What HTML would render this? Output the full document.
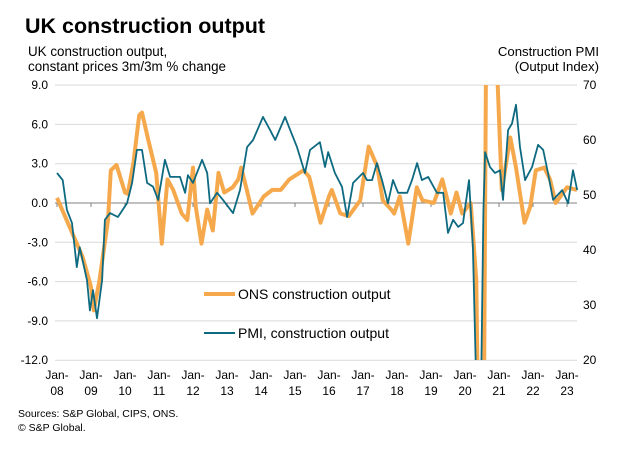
<!DOCTYPE html>
<html><head><meta charset="utf-8"><style>
html,body{margin:0;padding:0;background:#fff;overflow:hidden;width:637px;height:450px;}
svg{display:block;font-family:"Liberation Sans",Arial,sans-serif;}
</style></head><body>
<svg id="chart" width="637" height="450" viewBox="0 0 637 450" xmlns="http://www.w3.org/2000/svg">
<text x="25" y="33" font-size="21.5" font-weight="bold" fill="#000">UK construction output</text>
<text x="28" y="56" font-size="13.4" fill="#000">UK construction output,</text>
<text x="28" y="71" font-size="13.4" fill="#000">constant prices 3m/3m % change</text>
<text x="599" y="56" font-size="13.2" fill="#000" text-anchor="end">Construction PMI</text>
<text x="599" y="71" font-size="13.2" fill="#000" text-anchor="end">(Output Index)</text>
<g id="grid"></g>
<g id="axes"></g>
<defs><clipPath id="plotclip"><rect x="50" y="85" width="540" height="275"/></clipPath></defs>
<g id="series" clip-path="url(#plotclip)"></g>
<g>
<line x1="204" y1="294" x2="235" y2="294" stroke="#f5a94c" stroke-width="4"/>
<text x="238" y="299" font-size="14" fill="#000">ONS construction output</text>
<line x1="204" y1="333" x2="235" y2="333" stroke="#0e6a80" stroke-width="2"/>
<text x="238" y="338" font-size="14" fill="#000">PMI, construction output</text>
</g>
<text x="18" y="417" font-size="10.5" fill="#000">Sources: S&amp;P Global, CIPS, ONS.</text>
<text x="18" y="431" font-size="10.5" fill="#000">© S&amp;P Global.</text>
</svg>
<script>
const leftTicks=[9,6,3,0,-3,-6,-9,-12];
const leftTickLabels=["9.0","6.0","3.0","0.0","-3.0","-6.0","-9.0","-12.0"];
const rightTicks=[70,60,50,40,30,20];
const yearLabels=["08","09","10","11","12","13","14","15","16","17","18","19","20","21","22","23"];
const onsMonths=[0,6,9,12,13,15,18,19,21,24,25,27,29,30,32,35,37,39,41,44,46,48,49,51,53,55,57,59,62,64,65,67,69,73,76,79,82,87,89,93,96,97,100,103,107,110,113,115,118,119,121,124,127,129,133,136,139,141,143,146,148,150,152.5,155,157,160,162,165,167,169,172,174,176,180,183.5];
const onsValues=[0.4,-2.6,-4.1,-6.4,-8.2,-5.9,-1.3,2.5,2.9,0.8,0.7,3.1,6.7,6.9,5.0,2.3,-3.1,1.8,1.0,-0.8,-1.3,2.7,-0.3,-3.1,-0.5,-2.1,2.3,0.8,1.2,1.8,2.7,1.0,-0.8,0.5,1.0,1.0,1.8,2.5,2.0,-1.5,0.5,1.0,-0.8,-1.0,0.2,4.3,2.8,0.2,-0.5,-0.8,0.5,-3.1,1.2,0.2,0,1.8,-0.8,0.8,-0.8,0,-5.9,-40,50,12,1.0,5.0,2.7,-1.5,-0.3,2.5,2.7,1.8,0,1.2,1.0];
const pmiMonths=[0,2,3.5,5.3,7,8,10.6,11.6,12.7,14.1,15.9,16.9,18.7,21.5,24.7,26.5,28.2,30,31.8,33.9,35.7,38.1,39.9,43.4,45.2,46.2,48,51.2,53,54,56.5,58.6,62.1,64.6,67.1,69.2,72.7,75.2,77,80.5,82.3,84.7,87.5,89.3,92.8,94.6,95.7,98.1,100.6,102.4,104.5,108,109.4,111.2,112.9,114.7,116.8,118.6,120.4,123.6,125.3,127.1,128.8,131,134.1,136.3,138,139.8,141.6,143.3,145.4,146.8,148.3,149.5,150.5,151.1,152.8,154.6,156.4,157.4,159.2,160.6,162,163.4,165.2,167.7,169.8,171.6,173.3,175.1,178.3,180.4,182.1,183.6];
const pmiValues=[54.0,52.7,47.3,44.9,36.9,40.5,34.5,29.0,32.7,27.6,34.5,45.5,46.7,46.0,48.5,52.2,58.2,58.2,52.2,51.5,49.1,56.4,53.3,53.3,50.4,53.6,52.2,56.4,54.0,48.5,50.4,49.1,46.7,50.9,58.7,60.0,64.2,61.8,60.0,64.2,61.8,58.7,54.0,58.2,59.6,55.1,57.8,54.0,51.5,46.0,52.2,54.0,52.7,52.7,55.8,52.7,48.5,52.7,50.4,50.4,52.7,55.8,52.7,53.3,50.4,50.4,43.1,45.5,44.2,44.9,52.7,40.5,8.2,8.2,47.0,57.8,55.1,54.0,54.5,49.1,61.8,63.0,66.4,58.7,52.7,55.1,59.1,58.2,54.0,49.1,50.9,48.5,54.5,50.9];

const NS="http://www.w3.org/2000/svg";
const X0=57,PX_PER_MONTH=34/12;
const xs=m=>X0+m*PX_PER_MONTH;
const yL=v=>203-13.1*v;
const yR=p=>195-5.5*(p-50);
function mk(tag,attrs,parent){const e=document.createElementNS(NS,tag);for(const k in attrs)e.setAttribute(k,attrs[k]);parent.appendChild(e);return e;}
const grid=document.getElementById('grid'),axes=document.getElementById('axes'),series=document.getElementById('series');
leftTicks.forEach((v,i)=>{
  if(v!==0){const g=mk('line',{x1:55,x2:577,y1:yL(v),y2:yL(v),stroke:'#d9d9d9','stroke-width':1},grid);
  
  }
  const t=mk('text',{x:48,y:yL(v)+4,'font-size':12,'text-anchor':'end',fill:'#000'},axes);
  t.textContent=leftTickLabels[i];
  
  
});
rightTicks.forEach(p=>{
  const t=mk('text',{x:583,y:yR(p)+4,'font-size':12,'text-anchor':'start',fill:'#000'},axes);
  t.textContent=String(p);
  
  
});
const zl=mk('line',{x1:55,x2:577,y1:yL(0),y2:yL(0),stroke:'#808080','stroke-width':1},axes);


yearLabels.forEach((y,i)=>{
  const x=xs(i*12);
  const tk=mk('line',{x1:x,x2:x,y1:yL(0),y2:yL(0)+4,stroke:'#808080'},axes);
  
  
  const t1=mk('text',{x:x,y:379,'font-size':12,'text-anchor':'middle',fill:'#000'},axes);
  t1.textContent='Jan-';
  
  
  const t2=mk('text',{x:x,y:395,'font-size':12,'text-anchor':'middle',fill:'#000'},axes);
  t2.textContent=y;
  
  
});
const onsPath=mk('path',{d:onsMonths.map((m,i)=>(i?'L':'M')+xs(m).toFixed(1)+','+yL(onsValues[i]).toFixed(1)).join(''),fill:'none',stroke:'#f5a94c','stroke-width':4,'stroke-linejoin':'round'},series);


const pmiPath=mk('path',{d:pmiMonths.map((m,i)=>(i?'L':'M')+xs(m).toFixed(1)+','+yR(pmiValues[i]).toFixed(1)).join(''),fill:'none',stroke:'#0e6a80','stroke-width':1.8,'stroke-linejoin':'round'},series);


</script>
</body></html>
